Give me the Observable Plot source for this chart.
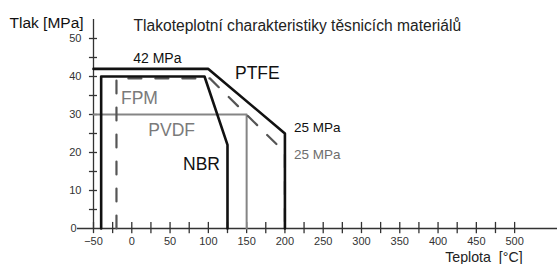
<!DOCTYPE html>
<html>
<head>
<meta charset="utf-8">
<script src="https://cdn.jsdelivr.net/npm/d3@7"></script>
<script src="https://cdn.jsdelivr.net/npm/@observablehq/plot@0.6"></script>
<style>
  html, body { margin: 0; padding: 0; background: #fff; }
  svg text { white-space: pre; }
</style>
</head>
<body>
<div id="chart"></div>
<script>
// Temperature [°C] / pressure [MPa] outlines of each sealing material
const ptfeT = [-50, 100, 200, 200];
const ptfeP = [42, 42, 25, 0];
const nbrT = [-40, -40, 95, 125, 125];
const nbrP = [0, 40, 40, 22, 0];
const fpmT = [-20, -20, 102, 200, 200];
const fpmP = [0, 39.5, 39.5, 20, 0];
const pvdfT = [-50, 150, 150];
const pvdfP = [30, 30, 0];

// axis ticks and labels
const xTickMarks = d3.range(-50, 501, 25);
const xTickLabels = [-50, 0, 50, 100, 150, 200, 250, 300, 350, 400, 450, 500];
const yTickMarks = [5, 10, 15, 20, 25, 30, 35, 40, 45, 50];
const yTickLabels = [10, 20, 30, 40, 50];

const title = "Tlakoteplotní charakteristiky těsnicích materiálů";
const yTitle = "Tlak [MPa]";
const xTitle = "Teplota  [°C]";

const pts = (T, P) => T.map((t, i) => ({t, p: P[i]}));
const ptfe = pts(ptfeT, ptfeP);
const nbr = pts(nbrT, nbrP);
const fpm = pts(fpmT, fpmP);
const pvdf = pts(pvdfT, pvdfP);

const chart = Plot.plot({
  width: 557,
  height: 264,
  marginLeft: 93,
  marginRight: 0,
  marginTop: 19,
  marginBottom: 36,
  x: {domain: [-50, 556]},
  y: {domain: [0, 55]},
  style: {fontFamily: "'Liberation Sans', Arial, sans-serif", background: "#fff", color: "#222"},
  marks: [
    // axes lines
    Plot.ruleY([0], {x1: -71, x2: 556, stroke: "#333", strokeWidth: 1.3}),
    Plot.ruleX([-50], {y1: 0, y2: 55, stroke: "#333", strokeWidth: 1.3}),
    // tick marks crossing the axes
    Plot.ruleX(xTickMarks, {y1: -1.35, y2: 1.6, stroke: "#333", strokeWidth: 1.3}),
    Plot.ruleY(yTickMarks, {x1: -55.3, x2: -44.8, stroke: "#333", strokeWidth: 1.3}),
    // tick labels
    Plot.axisX({ticks: xTickLabels, tickSize: 0, tickPadding: 9, fontSize: 11, fill: "#333", label: null}),
    Plot.axisY({ticks: yTickLabels, tickSize: 0, tickPadding: 12, fontSize: 11, fill: "#333", label: null}),
    Plot.axisY({ticks: [0], tickSize: 0, tickPadding: 17, fontSize: 11, fill: "#333", label: null}),
    // material outlines
    Plot.line(pvdf, {x: "t", y: "p", stroke: "#858585", strokeWidth: 2}),
    Plot.line(fpm, {x: "t", y: "p", stroke: "#555", strokeWidth: 2.2, strokeDasharray: "13,14"}),
    Plot.line(nbr, {x: "t", y: "p", stroke: "#111", strokeWidth: 2.6}),
    Plot.line(ptfe, {x: "t", y: "p", stroke: "#111", strokeWidth: 2.6}),
    // material labels anchored to outline points
    Plot.text(["42 MPa"], {x: [ptfeT[1]], y: [ptfeP[1]], dx: -51, dy: -10, fontSize: 14, fill: "#111"}),
    Plot.text(["PTFE"], {x: [ptfeT[1]], y: [ptfeP[1]], dx: 49, dy: 4, fontSize: 17.5, fill: "#111"}),
    Plot.text(["25 MPa"], {x: [ptfeT[2]], y: [ptfeP[2]], dx: 9, dy: -6, textAnchor: "start", fontSize: 13.5, fill: "#111"}),
    Plot.text(["FPM"], {x: [fpmT[1]], y: [fpmP[1]], dx: 23, dy: 20, fontSize: 17.5, fill: "#7a7a7a"}),
    Plot.text(["25 MPa"], {x: [fpmT[3]], y: [fpmP[3]], dx: 9, dy: 2, textAnchor: "start", fontSize: 13.5, fill: "#6e6e6e"}),
    Plot.text(["PVDF"], {x: [pvdfT[1]], y: [pvdfP[1]], dx: -75, dy: 16, fontSize: 17.5, fill: "#7a7a7a"}),
    Plot.text(["NBR"], {x: [nbrT[3]], y: [nbrP[3]], dx: -26, dy: 19, fontSize: 17.5, fill: "#111"}),
    // titles
    Plot.text([title], {frameAnchor: "top-left", dx: 40, dy: 0, lineAnchor: "top", textAnchor: "start", fontSize: 15.6, fill: "#222"}),
    Plot.text([yTitle], {frameAnchor: "top-left", dx: -84, dy: -3, lineAnchor: "top", textAnchor: "start", fontSize: 15.5, fill: "#111"}),
    Plot.text([xTitle], {x: [xTickLabels[xTickLabels.length - 1]], y: [0], dx: 8, dy: 23, lineAnchor: "top", textAnchor: "end", fontSize: 14.2, fill: "#222"})
  ]
});
document.getElementById("chart").appendChild(chart);
</script>
</body>
</html>
